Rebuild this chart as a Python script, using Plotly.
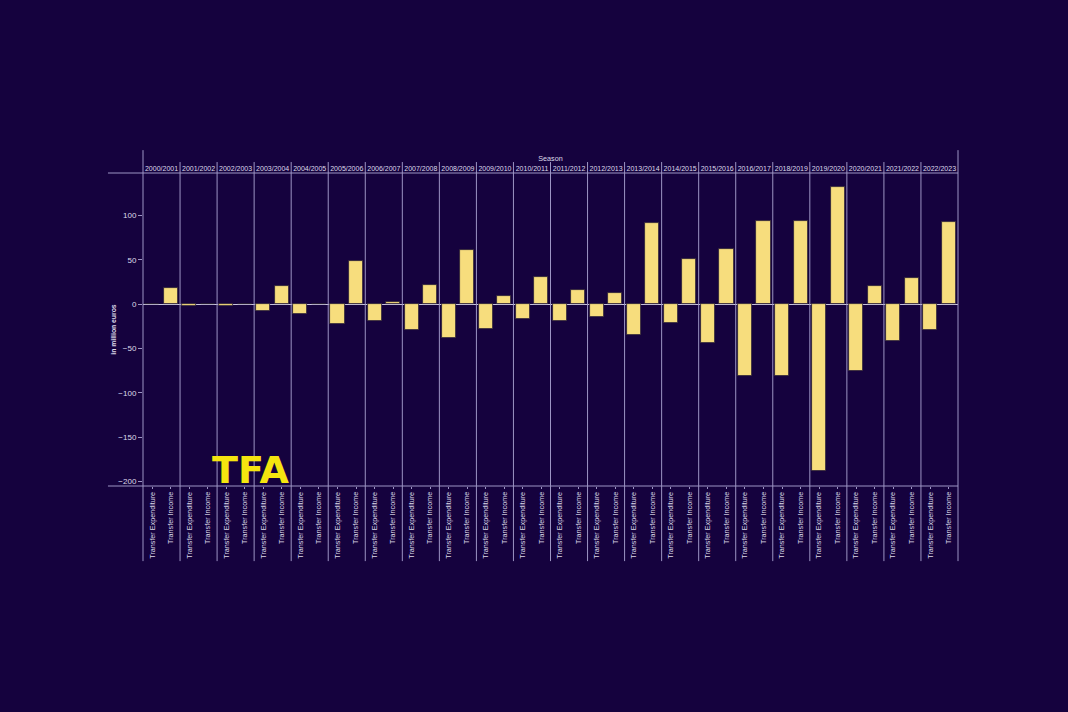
import plotly.graph_objects as go

seasons = ["2000/2001", "2001/2002", "2002/2003", "2003/2004", "2004/2005", "2005/2006",
           "2006/2007", "2007/2008", "2008/2009", "2009/2010", "2010/2011", "2011/2012",
           "2012/2013", "2013/2014", "2014/2015", "2015/2016", "2016/2017", "2018/2019",
           "2019/2020", "2020/2021", "2021/2022", "2022/2023"]
types = ["Transfer Expenditure", "Transfer Income"]
expenditure = [-0.4, -2.0, -2.3, -8.2, -11.2, -22.0, -18.8, -29.0, -37.8, -28.0, -17.2,
               -18.7, -14.0, -35.2, -21.0, -44.2, -81.3, -81.0, -188.4, -75.0, -41.6, -29.6]
income = [18.4, 0.4, 0.3, 20.6, 0.3, 48.7, 2.2, 21.3, 60.8, 9.4, 30.0,
          15.4, 12.5, 91.4, 50.6, 61.8, 93.6, 93.7, 132.4, 20.0, 29.0, 92.0]
y_ticks = [100, 50, 0, -50, -100, -150, -200]

BG = "#15023e"
GRID = "#9d95c4"
TXT = "#dedaea"
BAR = "#f7dd7d"
FONT = "Liberation Sans"

xs, ys, tick_text = [], [], []
for i, s in enumerate(seasons):
    xs += [2 * i, 2 * i + 1]
    ys += [expenditure[i], income[i]]
    tick_text += types

centers = [2 * i + 0.5 for i in range(len(seasons))]

fig = go.Figure()
fig.add_trace(go.Bar(
    x=xs, y=ys, width=0.76,
    marker=dict(color=BAR, line=dict(color="#2a2036", width=0.8)),
    showlegend=False, hoverinfo="y",
))
# invisible trace to activate the top axis
fig.add_trace(go.Scatter(x=centers, y=[0] * len(centers), xaxis="x2", mode="markers",
                         marker=dict(opacity=0), showlegend=False, hoverinfo="skip"))

shapes = []
for i in range(1, len(seasons)):
    shapes.append(dict(type="line", xref="x", yref="paper", x0=2 * i - 0.5, x1=2 * i - 0.5,
                       y0=-0.24, y1=1.035, line=dict(color=GRID, width=1)))
for xp in (0, 1):
    shapes.append(dict(type="line", xref="paper", yref="paper", x0=xp, x1=xp,
                       y0=-0.24, y1=1.073, line=dict(color=GRID, width=1)))
for yp in (0, 1):
    shapes.append(dict(type="line", xref="paper", yref="paper", x0=-0.043, x1=1,
                       y0=yp, y1=yp, line=dict(color=GRID, width=1)))

n = len(xs)
fig.update_layout(
    width=1068, height=712,
    margin=dict(l=143, r=110, t=173, b=226),
    paper_bgcolor=BG, plot_bgcolor=BG,
    bargap=0,
    font=dict(family=FONT, color=TXT, size=8),
    xaxis=dict(
        range=[-0.5, n - 0.5], tickmode="array", tickvals=xs, ticktext=tick_text,
        tickangle=-90, tickfont=dict(size=7.2, color=TXT, family=FONT),
        ticks="outside", ticklen=2, tickcolor=GRID, showgrid=False, zeroline=False,
        showline=False, fixedrange=True,
    ),
    xaxis2=dict(
        overlaying="x", side="top", range=[-0.5, n - 0.5], tickmode="array",
        tickvals=centers, ticktext=seasons, tickangle=0,
        tickfont=dict(size=7, color=TXT, family=FONT), ticks="",
        showgrid=False, zeroline=False, showline=False,
        title=dict(text="Season", font=dict(size=7.2, color=TXT, family=FONT), standoff=2),
    ),
    yaxis=dict(
        range=[-205.1, 147.8], tickmode="array", tickvals=y_ticks,
        tickfont=dict(size=8, color=TXT, family=FONT),
        ticks="outside", ticklen=4, tickcolor=GRID,
        showgrid=False, zeroline=True, zerolinecolor="#c9c4dc", zerolinewidth=1,
        showline=False,
        title=dict(text="<b>in million euros</b>", font=dict(size=6.8, color=TXT, family=FONT),
                   standoff=0),
    ),
    shapes=shapes,
    annotations=[dict(
        text="<b>TFA</b>", xref="paper", yref="paper", x=0.1325, y=0.051,
        xanchor="center", yanchor="middle", showarrow=False,
        font=dict(family="DejaVu Sans", size=38, color="#f5e50f"),
    )],
)

fig.write_html("out.html")
